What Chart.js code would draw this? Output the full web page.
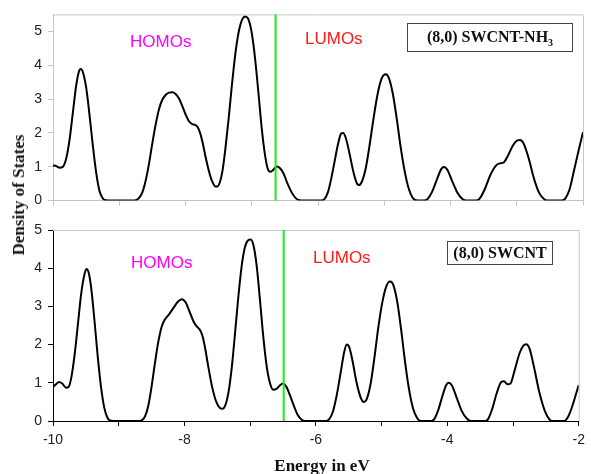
<!DOCTYPE html>
<html>
<head>
<meta charset="utf-8">
<script src="https://cdn.jsdelivr.net/npm/chart.js@4.4.0/dist/chart.umd.min.js"></script>
<style>
body{margin:0;background:#fff;}
#wrap{position:relative;width:591px;height:474px;overflow:hidden;}
canvas{position:absolute;left:0;}
.lbl{position:absolute;font-family:Arial,"Liberation Sans",sans-serif;font-size:17px;line-height:19px;white-space:nowrap;}
.box{position:absolute;border:1px solid #444;font-family:"Liberation Serif","Times New Roman",serif;font-weight:bold;font-size:16px;text-align:center;box-sizing:border-box;white-space:nowrap;color:#111;}
.ttl{position:absolute;font-family:"Liberation Serif","Times New Roman",serif;font-weight:bold;font-size:17px;white-space:nowrap;color:#111;transform:translate(-50%,-50%);}
</style>
</head>
<body>
<div id="wrap">
  <canvas id="top" width="591" height="215" style="top:0"></canvas>
  <canvas id="bot" width="591" height="259" style="top:215px"></canvas>
  <div class="lbl" style="left:130px;top:32px;color:#ff00ff">HOMOs</div>
  <div class="lbl" style="left:305px;top:29px;color:#ff1a1a">LUMOs</div>
  <div class="box" style="left:407px;top:23px;width:166px;height:29px;line-height:26px">(8,0) SWCNT-NH<sub style="font-size:10px">3</sub></div>
  <div class="lbl" style="left:131px;top:253px;color:#ff00ff">HOMOs</div>
  <div class="lbl" style="left:313px;top:248px;color:#ff1a1a">LUMOs</div>
  <div class="box" style="left:447px;top:241px;width:106px;height:24px;line-height:22px">(8,0) SWCNT</div>
  <div class="ttl" style="left:19px;top:195px;transform:translate(-50%,-50%) rotate(-90deg)">Density of States</div>
  <div class="ttl" style="left:322px;top:466px">Energy in eV</div>
</div>
<script>
// (8,0) SWCNT-NH3, top panel
var topEnergy = [-10.00,-9.95,-9.90,-9.85,-9.80,-9.75,-9.70,-9.65,-9.60,-9.58,-9.55,-9.50,-9.45,-9.40,-9.35,-9.30,-9.25,-9.20,-9.00,-8.80,
  -8.74,-8.70,-8.65,-8.60,-8.55,-8.50,-8.45,-8.40,-8.35,-8.30,-8.25,-8.20,-8.15,-8.10,-8.05,-8.00,-7.95,-7.90,-7.86,-7.82,
  -7.78,-7.74,-7.70,-7.65,-7.60,-7.55,-7.52,-7.48,-7.44,-7.40,-7.35,-7.30,-7.25,-7.20,-7.15,-7.10,-7.05,-7.00,-6.95,-6.90,
  -6.85,-6.80,-6.76,-6.72,-6.68,-6.62,-6.58,-6.52,-6.46,-6.40,-6.34,-6.28,-6.20,-5.95,-5.90,-5.85,-5.80,-5.75,-5.70,-5.65,
  -5.62,-5.58,-5.52,-5.46,-5.41,-5.38,-5.34,-5.28,-5.22,-5.16,-5.10,-5.04,-4.98,-4.93,-4.87,-4.81,-4.75,-4.69,-4.63,-4.57,
  -4.50,-4.40,-4.35,-4.28,-4.20,-4.14,-4.10,-4.05,-3.98,-3.90,-3.82,-3.76,-3.62,-3.56,-3.48,-3.40,-3.32,-3.26,-3.20,-3.14,
  -3.06,-2.99,-2.95,-2.90,-2.82,-2.74,-2.66,-2.58,-2.54,-2.32,-2.26,-2.20,-2.14,-2.07,-2.00];
var topDos = [1.04,1.02,0.97,1.00,1.25,1.80,2.60,3.40,3.86,3.89,3.80,3.35,2.55,1.65,0.85,0.30,0.07,0.01,0,0,
  0.02,0.08,0.25,0.60,1.10,1.70,2.25,2.70,2.98,3.12,3.19,3.20,3.15,3.02,2.80,2.55,2.35,2.26,2.24,2.18,
  2.00,1.70,1.32,0.90,0.58,0.42,0.42,0.55,0.90,1.50,2.40,3.40,4.30,4.95,5.32,5.44,5.35,4.95,4.20,3.20,
  2.15,1.35,0.95,0.85,0.90,1.01,0.97,0.80,0.50,0.25,0.08,0.01,0,0,0.05,0.25,0.65,1.15,1.65,1.98,
  2.00,1.85,1.35,0.80,0.50,0.46,0.55,0.95,1.65,2.45,3.15,3.60,3.73,3.62,3.15,2.40,1.55,0.85,0.35,0.08,
  0,0,0.04,0.25,0.65,0.93,0.99,0.92,0.60,0.25,0.05,0,0,0.06,0.35,0.75,1.02,1.10,1.12,1.30,
  1.62,1.78,1.79,1.70,1.25,0.65,0.22,0.03,0,0,0.08,0.35,0.85,1.45,2.02];

// (8,0) SWCNT, bottom panel
var botEnergy = [-10.00,-9.95,-9.91,-9.86,-9.80,-9.76,-9.72,-9.67,-9.62,-9.57,-9.52,-9.49,-9.46,-9.42,-9.37,-9.32,-9.27,-9.22,-9.17,-9.12,
  -9.00,-8.68,-8.64,-8.60,-8.55,-8.50,-8.45,-8.40,-8.35,-8.30,-8.24,-8.16,-8.10,-8.04,-7.98,-7.92,-7.86,-7.81,-7.77,-7.73,
  -7.69,-7.64,-7.58,-7.52,-7.46,-7.42,-7.38,-7.33,-7.28,-7.23,-7.18,-7.13,-7.08,-7.03,-6.99,-6.95,-6.90,-6.85,-6.80,-6.75,
  -6.70,-6.65,-6.60,-6.55,-6.50,-6.45,-6.40,-6.34,-6.28,-6.22,-6.16,-5.84,-5.80,-5.74,-5.68,-5.62,-5.57,-5.53,-5.49,-5.44,
  -5.38,-5.32,-5.27,-5.23,-5.17,-5.11,-5.05,-4.99,-4.93,-4.87,-4.82,-4.76,-4.70,-4.64,-4.58,-4.52,-4.46,-4.40,-4.24,-4.20,
  -4.14,-4.07,-4.02,-3.98,-3.93,-3.86,-3.78,-3.70,-3.64,-3.42,-3.38,-3.32,-3.25,-3.18,-3.14,-3.08,-3.04,-2.98,-2.90,-2.84,
  -2.80,-2.75,-2.68,-2.60,-2.52,-2.45,-2.40,-2.22,-2.16,-2.10,-2.05,-2.00];
var botDos = [0.89,0.97,1.02,0.98,0.87,0.90,1.15,1.75,2.55,3.35,3.85,3.98,3.90,3.50,2.65,1.70,0.90,0.35,0.08,0.01,
  0,0,0.03,0.12,0.40,0.90,1.50,2.05,2.45,2.65,2.78,2.98,3.12,3.19,3.10,2.85,2.60,2.47,2.40,2.25,
  1.95,1.45,0.90,0.52,0.34,0.32,0.40,0.75,1.40,2.30,3.25,4.05,4.55,4.73,4.75,4.60,4.05,3.15,2.20,1.45,
  1.00,0.82,0.84,0.93,0.98,0.90,0.70,0.42,0.17,0.04,0,0,0.04,0.25,0.70,1.30,1.80,2.00,1.92,1.55,
  1.00,0.62,0.50,0.56,0.95,1.65,2.45,3.10,3.52,3.65,3.55,3.10,2.35,1.50,0.80,0.32,0.08,0,0,0.05,
  0.28,0.68,0.93,1.00,0.93,0.62,0.26,0.06,0,0,0.05,0.30,0.72,1.02,1.04,0.96,0.98,1.30,1.78,1.98,
  2.01,1.90,1.40,0.75,0.28,0.05,0,0,0.12,0.38,0.66,0.94];

var fermiTop = -6.64;
var fermiBot = -6.49;
var xTicks = [-10, -8, -6, -4, -2];

function pts(xs, ys){
  return xs.map((x, i) => ({x: x, y: ys[i]}));
}

var frame = {
  id: 'frame',
  afterDatasetsDraw(chart, args, opts){
    var ctx = chart.ctx, a = chart.chartArea;
    ctx.save();
    ctx.strokeStyle = '#c8c8c8';
    ctx.lineWidth = 1;
    ctx.beginPath();
    ctx.moveTo(a.left, a.top + 0.5);
    ctx.lineTo(a.right + 0.5, a.top + 0.5);
    ctx.lineTo(a.right + 0.5, a.bottom);
    ctx.stroke();
    var gx = chart.scales.x.getPixelForValue(opts.fermi);
    ctx.strokeStyle = '#14ee14';
    ctx.lineWidth = 2;
    ctx.beginPath();
    ctx.moveTo(gx, a.top);
    ctx.lineTo(gx, a.bottom);
    ctx.stroke();
    ctx.restore();
  }
};

function panel(id, xs, ys, fermi, ymax, padTop, xHeight, showX, axisColor){
  new Chart(document.getElementById(id), {
    type: 'line',
    data: {
      datasets: [{
        data: pts(xs, ys),
        borderColor: '#000',
        borderWidth: 2,
        pointRadius: 0,
        cubicInterpolationMode: 'monotone',
        fill: false
      }]
    },
    options: {
      responsive: false,
      animation: false,
      layout: {padding: {top: padTop, right: 8, left: 0, bottom: 0}},
      plugins: {legend: {display: false}, tooltip: {enabled: false}, frame: {fermi: fermi}},
      scales: {
        x: {
          type: 'linear', min: -10, max: -2,
          afterFit: s => { s.height = xHeight; },
          border: {display: true, color: axisColor, width: 1},
          grid: {drawOnChartArea: false, tickLength: 5, color: axisColor},
          ticks: {
            display: showX, stepSize: 1, padding: 6, color: '#222',
            font: {family: 'Arial, "Liberation Sans"', size: 14},
            callback: v => xTicks.includes(v) ? String(v) : ''
          }
        },
        y: {
          min: 0, max: ymax,
          afterFit: s => { s.width = 53; },
          border: {display: true, color: axisColor, width: 1},
          grid: {
            drawOnChartArea: false, tickLength: 5,
            color: c => (c.tick && c.tick.value > 5.01) ? 'rgba(0,0,0,0)' : axisColor
          },
          ticks: {
            stepSize: 0.5, padding: 6, color: '#222',
            font: {family: 'Arial, "Liberation Sans"', size: 14},
            callback: v => Number.isInteger(v) && v <= 5 ? String(v) : ''
          }
        }
      }
    },
    plugins: [frame]
  });
}

panel('top', topEnergy, topDos, fermiTop, 5.5, 12, 13, false, '#c4c4c4');
panel('bot', botEnergy, botDos, fermiBot, 5, 15, 53, true, '#000');
</script>
</body>
</html>
